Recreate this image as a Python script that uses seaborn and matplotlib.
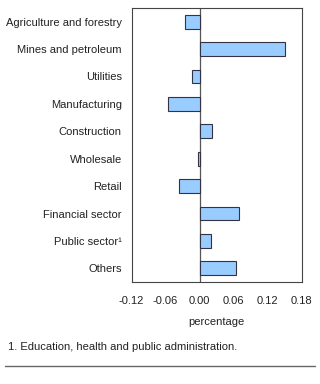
import pandas as pd
import matplotlib.pyplot as plt
import seaborn as sns

# Datos
sectors = ["Agriculture and forestry", "Mines and petroleum", "Utilities",
           "Manufacturing", "Construction", "Wholesale", "Retail",
           "Financial sector", "Public sector\u00b9", "Others"]
values = [-0.026, 0.151, -0.0135, -0.055, 0.022, -0.002, -0.037, 0.069, 0.020, 0.064]
x_ticks = [-0.12, -0.06, 0.00, 0.06, 0.12, 0.18]

df = pd.DataFrame({"sector": sectors, "value": values})

sns.set_theme(style="white")
plt.rcParams['font.family'] = ['Liberation Sans', 'DejaVu Sans']

fig = plt.figure(figsize=(3.2, 3.84), dpi=100)
ax = fig.add_axes([131.5 / 320, 1 - 282 / 384, 170 / 320, 274 / 384])

sns.barplot(data=df, x="value", y="sector", orient="h", color="#99ccff",
            edgecolor="#333344", linewidth=0.8, width=0.5, saturation=1, ax=ax)

ax.axvline(0, color="#555555", linewidth=0.9, zorder=0)
ax.set_xlim(-0.12, 0.18)
ax.set_xticks(x_ticks)
ax.set_xticklabels([f"{t:.2f}" for t in x_ticks], fontsize=8, color="#222222")
ax.tick_params(axis="x", direction="in", length=3, width=0.6, color="#555555", pad=10)
ax.tick_params(axis="y", length=0, labelsize=8, labelcolor="#222222", pad=7)
ax.set_ylabel("")
ax.set_xlabel("percentage", fontsize=8, color="#222222", labelpad=8)
for spine in ax.spines.values():
    spine.set_edgecolor("#444444")
    spine.set_linewidth(0.8)

fig.text(8 / 320, 1 - 347 / 384, "1. Education, health and public administration.",
         fontsize=8, color="#222222", va="center", ha="left")
fig.add_artist(plt.Line2D([5 / 320, 315 / 320], [1 - 366 / 384, 1 - 366 / 384],
                          color="#666666", linewidth=1.0))

plt.savefig("out.png", dpi=100)
plt.close()
